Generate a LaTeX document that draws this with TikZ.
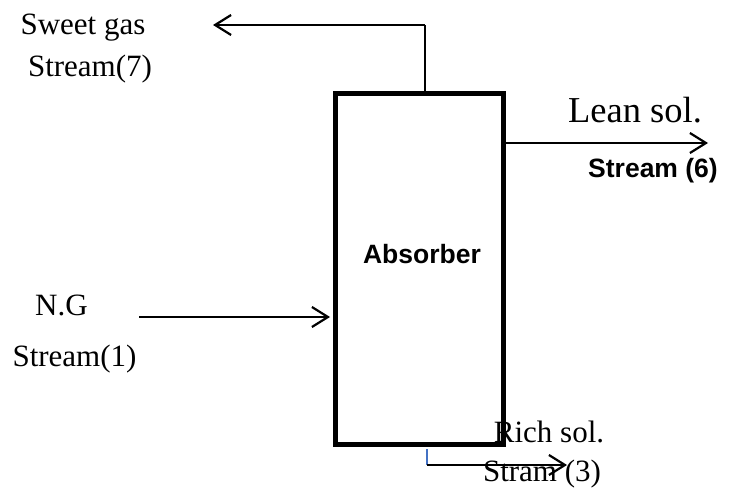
\documentclass[tikz,border=0pt]{standalone}
\usepackage{fontspec}
\setmainfont{Liberation Serif}
\setsansfont{Liberation Sans}
\usetikzlibrary{arrows.meta,positioning}

\begin{document}
\begin{tikzpicture}[x=1pt,y=-1pt,
    txt/.style={font=\fontsize{31}{36}\selectfont,anchor=base,inner sep=0pt},
    big/.style={font=\fontsize{36.5}{42}\selectfont,anchor=base,inner sep=0pt},
    tag/.style={font=\sffamily\bfseries\fontsize{26.5}{30}\selectfont,anchor=base,inner sep=0pt},
    flow/.style={-{Straight Barb[length=16pt,width=20pt,line width=2.2pt]},line width=2.2pt},
    column/.style={draw,line width=5pt,minimum width=168pt,minimum height=350pt}]
  \useasboundingbox (0,0) rectangle (730,489);

  % stream labels go first, the column edge sits on top of them
  \node[txt] (sweet) at (83,35) {Sweet gas};
  \node[txt] (s7) at (90,77) {Stream(7)};
  \node[big] (lean) at (635,123) {Lean sol.};
  \node[tag] (s6) at (653,178) {Stream (6)};
  \node[txt] (ng) at (61.5,315) {N.G};
  \node[txt] (s1) at (74.5,366) {Stream(1)};
  \node[txt] (rich) at (549,442) {Rich sol.};
  \node[txt] (s3) at (542,481) {Stram (3)};

  % absorber column
  \node[column] (abs) at (419,269) {};
  \node[tag] (name) at (422,263) {Absorber};

  \coordinate (gastop) at (425,25);
  \coordinate (gasend) at (213,25);
  \coordinate (leanend) at (708,143);
  \coordinate (ngstart) at (139,317);
  \coordinate (richbot) at (427,465);
  \coordinate (richend) at (567,465);

  % sweet gas leaves from the top
  \draw[line width=1.6pt] ([xshift=6pt]abs.north) -- (gastop);
  \draw[flow] (gastop) -- (gasend);
  % lean solvent
  \draw[flow] (abs.east |- leanend) -- (leanend);
  % feed gas
  \draw[flow,shorten >=2.5pt] (ngstart) -- (ngstart -| abs.west);
  % rich solvent from the bottom
  \draw[color={rgb,255:red,68;green,114;blue,196},line width=1.2pt] ([xshift=8pt,yshift=-2.5pt]abs.south) -- (richbot);
  \draw[flow] (richbot) -- (richend);
\end{tikzpicture}
\end{document}
